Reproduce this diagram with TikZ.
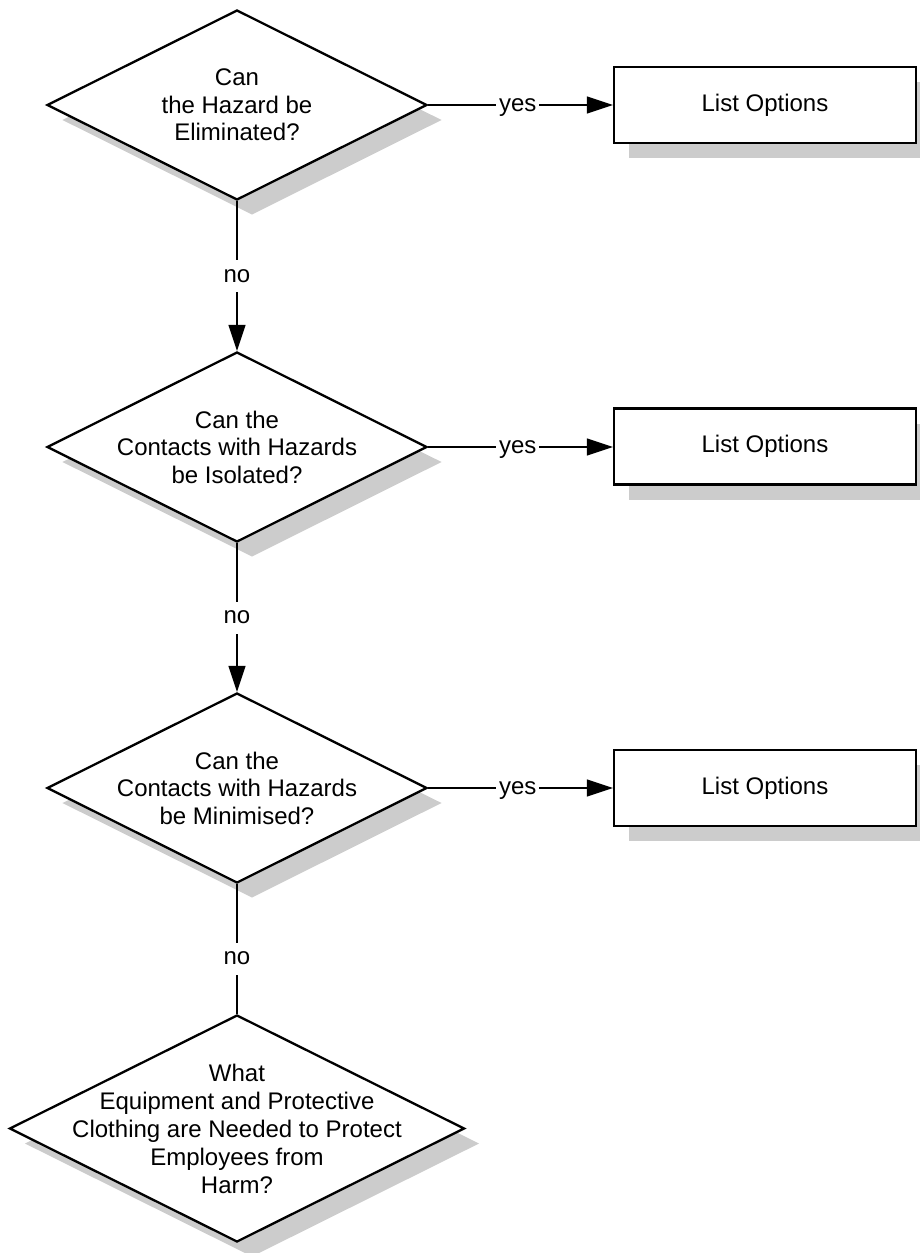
\documentclass[tikz,border=0pt]{standalone}
\usepackage{fontspec}
\setmainfont{Liberation Sans}
\usetikzlibrary{shapes.geometric,arrows.meta,shadows}
\definecolor{shadowgray}{HTML}{CCCCCC}
\begin{document}
\begin{tikzpicture}[x=1pt,y=-1pt,
  decision/.style={diamond, draw=black, line width=2.3pt, fill=white,
    inner sep=0pt, minimum width=380pt, minimum height=190pt,
    drop shadow={shadow xshift=15pt, shadow yshift=-15pt, fill=shadowgray, opacity=1}},
  action/.style={rectangle, draw=black, line width=2.3pt, fill=white,
    minimum width=302pt, minimum height=76pt, font=\fontsize{24}{27.5}\selectfont,
    drop shadow={shadow xshift=15pt, shadow yshift=-15pt, fill=shadowgray, opacity=1}},
  qtext/.style={align=center, inner sep=0pt, font=\fontsize{24}{27.5}\selectfont},
  conn/.style={line width=1.4pt, draw=black},
  flow/.style={conn, -{Triangle[length=26pt, width=17pt]}},
  lbl/.style={fill=white, inner xsep=3pt, inner ysep=5pt, text height=17pt, text depth=5pt,
    font=\fontsize{24}{27.5}\selectfont}
]
\useasboundingbox (0,0) rectangle (919,1253);

% decision diamonds
\node[decision] (d1) at (237,105) {};
\node[decision] (d2) at (237,447) {};
\node[decision] (d3) at (237,788) {};
\node[decision, minimum width=455pt, minimum height=227pt] (d4) at (237,1128.5) {};

% question texts
\node[qtext] (q1) at (d1.center) {Can\\the Hazard be\\Eliminated?};
\node[qtext] (q2) at (d2.center) {Can the\\Contacts with Hazards\\be Isolated?};
\node[qtext] (q3) at (d3.center) {Can the\\Contacts with Hazards\\be Minimised?};
\node[qtext, font=\fontsize{24}{28}\selectfont] (q4) at (d4.center)
  {What\\Equipment and Protective\\Clothing are Needed to Protect\\Employees from\\Harm?};

% action boxes
\node[action] (r1) at (765,105) {List Options};
\node[action] (r2) at (765,446.5) {List Options};
\node[action] (r3) at (765,788) {List Options};

% yes branches
\draw[flow] (d1.east) -- node[lbl, pos=0.485] (y1) {yes} (r1.west |- d1.east);
\draw[flow] (d2.east) -- node[lbl, pos=0.485] (y2) {yes} (r2.west |- d2.east);
\draw[flow] (d3.east) -- node[lbl, pos=0.485] (y3) {yes} (r3.west |- d3.east);

% no branches
\draw[flow] (d1.south) -- node[lbl] (n1) {no} (d2.north);
\draw[flow] (d2.south) -- node[lbl] (n2) {no} (d3.north);
\draw[conn] (d3.south) -- node[lbl, pos=0.576] (n3) {no} (d4.north);
\end{tikzpicture}
\end{document}
